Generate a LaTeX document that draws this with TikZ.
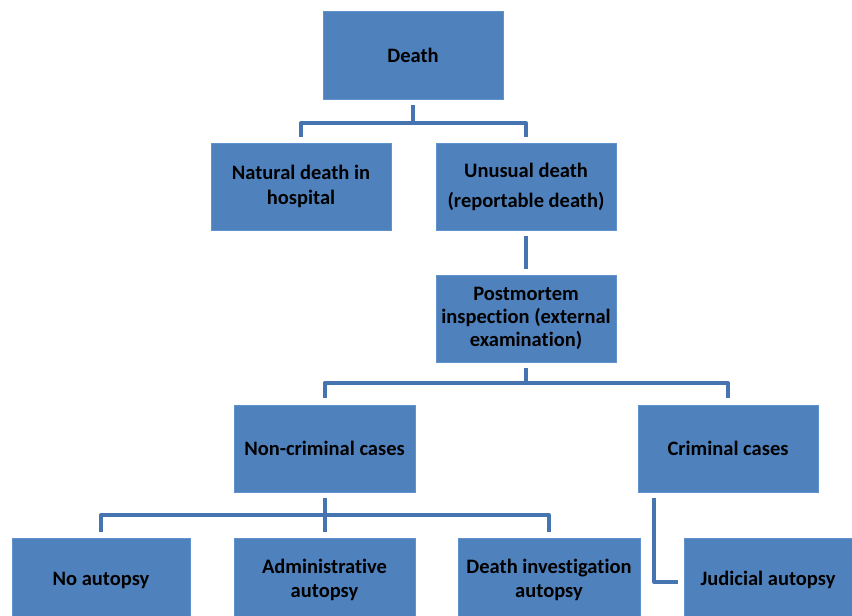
\documentclass[tikz,border=0pt]{standalone}
\usepackage{fontspec}
\setmainfont{Carlito}[Ligatures=NoCommon]
\definecolor{boxfill}{RGB}{79,129,189}
\definecolor{boxedge}{RGB}{96,146,205}
\definecolor{linecol}{RGB}{70,116,176}
\begin{document}
\begin{tikzpicture}[x=1pt,y=-1pt,
  box/.style={rectangle, fill=boxfill, draw=boxedge, line width=0.8pt,
    minimum width=180pt, minimum height=87pt, inner sep=1pt,
    align=center, font=\fontsize{20.5}{24.5}\selectfont\bfseries, text=black},
  bottombox/.style={box, minimum height=84pt},
  conn/.style={draw=linecol, line width=4pt, line join=round}]
\useasboundingbox (0,0) rectangle (852,616);
\node[box, minimum height=88pt] (death) at (413,55) {Death};
\node[box] (natural) at (301,186.5) {Natural death in\\hospital};
\node[box, font=\fontsize{20.5}{30}\selectfont\bfseries] (unusual) at (526,186.5) {Unusual death\\(reportable death)};
\node[box, font=\fontsize{20.5}{23}\selectfont\bfseries] (post) at (526,318.5) {Postmortem\\inspection (external\\examination)};
\node[box, minimum width=181pt] (noncrim) at (324.5,448.5) {Non-criminal cases};
\node[box] (crim) at (728,448.5) {Criminal cases};
\node[bottombox, minimum width=178pt] (noaut) at (101,580) {No autopsy};
\node[bottombox, minimum width=181pt] (admin) at (324.5,580) {Administrative\\autopsy};
\node[bottombox, minimum width=182pt] (deathinv) at (549,580) {Death investigation\\autopsy};
\node[bottombox, minimum width=168pt] (judicial) at (768,580) {Judicial autopsy};
\coordinate (j1) at (413,123);
\coordinate (j2) at (526,383);
\coordinate (j3) at (324.5,515);
\draw[conn] ([yshift=-6pt]death.south) -- (j1);
\draw[conn] ([yshift=6pt]natural.north) |- (j1) -| ([yshift=6pt]unusual.north);
\draw[conn] ([yshift=-6pt]unusual.south) -- ([yshift=6pt]post.north);
\draw[conn] ([yshift=-6pt]post.south) -- (j2);
\draw[conn] ([yshift=7pt]noncrim.north) |- (j2) -| ([yshift=7pt]crim.north);
\draw[conn] ([yshift=-6pt]noncrim.south) -- ([yshift=6pt]admin.north);
\draw[conn] ([yshift=6pt]noaut.north) |- (j3) -| ([yshift=6pt]deathinv.north);
\draw[conn] ([xshift=-74pt,yshift=-6pt]crim.south) |- ([xshift=-6pt,yshift=-2pt]judicial.west);
\end{tikzpicture}
\end{document}
